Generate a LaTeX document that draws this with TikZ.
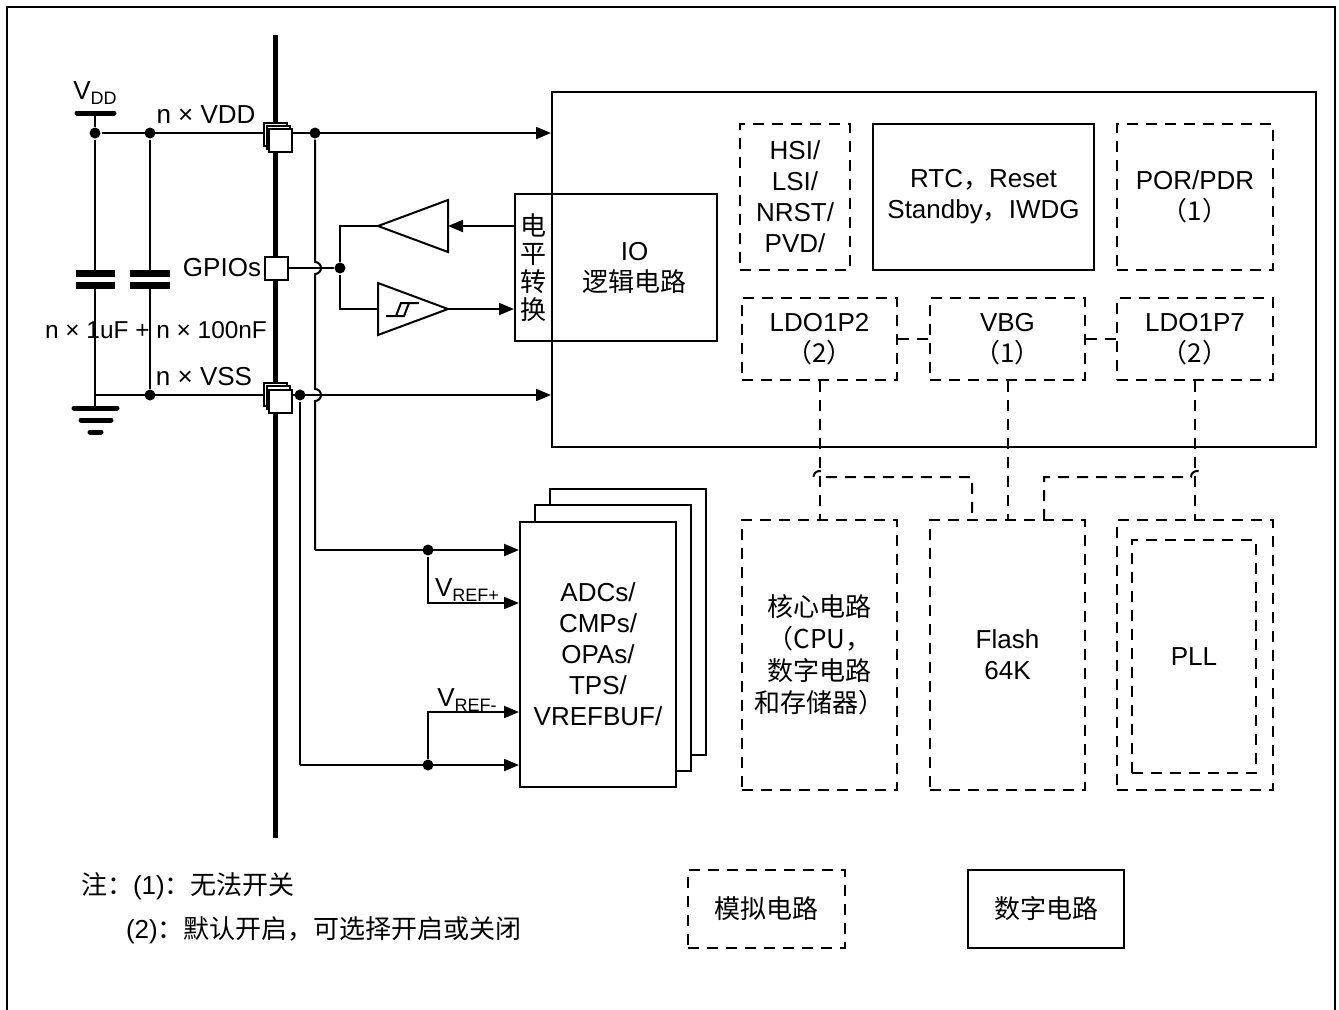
\documentclass[tikz,border=0pt]{standalone}
\usepackage{fontspec}
\setmainfont{Liberation Sans}
\newfontfamily\cjk{Noto Sans CJK SC}
\usetikzlibrary{arrows.meta,calc}
\begin{document}
\begin{tikzpicture}[x=0.5pt,y=-0.5pt, line width=1pt,
  font=\fontsize{13}{15.5}\selectfont,
  solidbox/.style={draw, line width=1pt, inner sep=0pt, align=center},
  dashbox/.style={draw, line width=1pt, dash pattern=on 5.5pt off 4pt, inner sep=0pt, align=center},
  dline/.style={dash pattern=on 5.5pt off 4pt},
  arr/.style={-{Triangle[length=7.5pt,width=6pt]}},
  dot/.style={circle, fill, inner sep=0pt, minimum size=5.5pt},
  pad/.style={draw, fill=white, minimum size=11.5pt, inner sep=0pt},
  lbl/.style={inner sep=0pt},
  plate/.style={line width=3.5pt},
  gnd/.style={line width=2.5pt, line cap=round}]
\useasboundingbox (0,0) rectangle (1339,1009);
% outer frame
\draw[line width=1.2pt] (7,1012) -- (7,7) -- (1335,7) -- (1335,1012);

% ---------- main blocks ----------
\node[solidbox, minimum width=382pt, minimum height=177.5pt] (big) at (934,269.5) {};
\node[solidbox, minimum width=18.5pt, minimum height=73.5pt, font=\cjk\fontsize{13}{14}\selectfont] (ls) at (533.5,267.5) {电\\平\\转\\换};
\node[solidbox, minimum width=82.5pt, minimum height=73.5pt] (io) at (634.5,267.5) {IO\\{\cjk 逻辑电路}};
\node[dashbox, minimum width=55pt, minimum height=73pt] (hsi) at (795,197) {HSI/\\LSI/\\NRST/\\PVD/};
\node[solidbox, minimum width=110.5pt, minimum height=73pt] (rtc) at (983.5,197) {RTC{\cjk ，}Reset\\Standby{\cjk ，}IWDG};
\node[dashbox, minimum width=78pt, minimum height=73pt] (por) at (1195,197) {POR/PDR\\{\cjk （1）}};
\node[dashbox, minimum width=77.5pt, minimum height=41pt] (ldo2) at (819.5,339) {LDO1P2\\{\cjk （2）}};
\node[dashbox, minimum width=77.5pt, minimum height=41pt] (vbg) at (1007.5,339) {VBG\\{\cjk （1）}};
\node[dashbox, minimum width=78pt, minimum height=41pt] (ldo7) at (1195,339) {LDO1P7\\{\cjk （2）}};
\node[dashbox, minimum width=77.5pt, minimum height=135pt, font=\cjk\fontsize{13}{16}\selectfont] (core) at (819.5,655) {核心电路\\（CPU，\\数字电路\\和存储器）};
\node[dashbox, minimum width=77.5pt, minimum height=135pt] (flash) at (1007.5,655) {Flash\\64K};
\node[dashbox, minimum width=78pt, minimum height=135pt] (pll) at (1195,655) {};
\node[dashbox, minimum width=62pt, minimum height=116.5pt] (pllin) at (1194,656.5) {PLL};

% ADC stack
\node[solidbox, fill=white, minimum width=78pt, minimum height=133pt] (adc3) at (628,622) {};
\node[solidbox, fill=white, minimum width=78pt, minimum height=133pt] (adc2) at (613,638) {};
\node[solidbox, fill=white, minimum width=78pt, minimum height=132.5pt] (adc) at (598,654.5) {ADCs/\\CMPs/\\OPAs/\\TPS/\\VREFBUF/};

% legend
\node[dashbox, minimum width=78.5pt, minimum height=39pt, font=\cjk\fontsize{13}{15.5}\selectfont] (lega) at (766.5,909) {模拟电路};
\node[solidbox, minimum width=78pt, minimum height=39pt, font=\cjk\fontsize{13}{15.5}\selectfont] (legd) at (1046,909) {数字电路};
\node[lbl, anchor=west] (note1) at (80,886) {{\cjk 注：}(1){\cjk ：无法开关}};
\node[lbl, anchor=west] (note2) at (125,930) {(2){\cjk ：默认开启，可选择开启或关闭}};

% ---------- dashed internal connectors ----------
\draw[dline] (ldo2.east) -- (vbg.west);
\draw[dline] (vbg.east) -- (ldo7.west);
\draw[dline] (ldo2.south) -- (core.north);
\draw[dline] (vbg.south) -- (flash.north);
\draw[dline] (ldo7.south) -- (pll.north);
\coordinate (hopl) at (813.5,477);
\coordinate (fl1) at (972,520);
\coordinate (fl2) at (1044,520);
\coordinate (hopr) at (1191,477);
\draw[dline] (hopl) arc[start angle=180,end angle=0,radius=3pt] -- (fl1 |- hopl) -- (fl1);
\draw[dline] (fl2) -- (fl2 |- hopr) -- (hopr) arc[start angle=180,end angle=0,radius=3pt];

% ---------- power supply side ----------
\coordinate (bust) at (275,35);
\coordinate (busb) at (275,838);
\draw[line width=2.5pt] (bust) -- (busb);

\coordinate (vddbar) at (95,113);
\draw[line width=2.5pt, line cap=round] (77,113) -- (114,113);
\node[lbl] (vddlbl) at (95,93) {V\raisebox{-0.4ex}{\fontsize{9}{9}\selectfont DD}};
\node[dot] (d1) at (95,133) {};
\node[dot] (d2) at (150,133) {};
\node[dot] (d3) at (315,133) {};
\node[dot] (d4) at (150,395) {};
\node[dot] (d5) at (300,395) {};
\coordinate (vssn) at (95,395);
\draw (vddbar) -- (d1);
\draw[arr] (d1) -- (d1 -| big.west);
\draw[arr] (vssn) -- (vssn -| big.west);

% capacitors
\coordinate (c1a) at (95,273.5);
\coordinate (c1b) at (95,285);
\coordinate (c2a) at (150,273.5);
\coordinate (c2b) at (150,285);
\draw (d1) -- (c1a);
\draw (d2) -- (c2a);
\draw (c1b) -- (95,407);
\draw (c2b) -- (d4);
\draw[plate] (76,273.5) -- (115,273.5);
\draw[plate] (76,285) -- (115,285);
\draw[plate] (130,273.5) -- (170,273.5);
\draw[plate] (130,285) -- (170,285);
% ground
\draw[gnd] (74,408) -- (117,408);
\draw[gnd] (81,420) -- (111,420);
\draw[gnd] (90,432) -- (101,432);

\node[lbl] (nvdd) at (206,115) {n × VDD};
\node[lbl] (nvss) at (204,377) {n × VSS};
\node[lbl, font=\fontsize{12.2}{14}\selectfont] (ncap) at (156,330) {n × 1uF + n × 100nF};
\node[lbl, anchor=east] (gpiol) at (262,268) {GPIOs};

% VDD trunk with hops
\coordinate (a1) at (315,550);
\draw (d3) -- (315,262) arc[start angle=90,end angle=-90,radius=3pt] -- (315,389) arc[start angle=90,end angle=-90,radius=3pt] -- (a1);
\draw[arr] (a1) -- (a1 -| adc.west);
\coordinate (a2) at (300,765);
\draw (d5) -- (a2);
\draw[arr] (a2) -- (a2 -| adc.west);
\node[dot] (d6) at (428,550) {};
\node[dot] (d7) at (428,765) {};
\coordinate (vrp) at (428,603);
\coordinate (vrm) at (428,712);
\draw[arr] (d6) -- (vrp) -- (vrp -| adc.west);
\draw[arr] (d7) -- (vrm) -- (vrm -| adc.west);
\node[lbl] (vrefp) at (467,590) {V\raisebox{-0.4ex}{\fontsize{9}{9}\selectfont REF+}};
\node[lbl] (vrefm) at (467,700) {V\raisebox{-0.4ex}{\fontsize{9}{9}\selectfont REF-}};

% GPIO and buffers
\node[dot] (gd) at (340,268) {};
\coordinate (b1apex) at (378,226);
\coordinate (b1base) at (448,226);
\coordinate (b2base) at (378,309);
\coordinate (b2apex) at (448,309);
\draw (378,226) -- (448,200) -- (448,252) -- cycle;
\draw (378,283) -- (378,335) -- (448,309) -- cycle;
\draw[arr] (b1base -| ls.west) -- (b1base);
\draw (b1apex) -- (gd |- b1apex) -- (gd);
\draw (gd) -- (gd |- b2base) -- (b2base);
\draw[arr] (b2apex) -- (b2apex -| ls.west);
% hysteresis symbol
\draw (386,316) -- (404,316) -- (409,303) -- (419,303);
\draw (396,316) -- (401,303) -- (409,303);

% pads
\node[pad] (pgpio) at (276,268) {};
\draw (pgpio.east) -- (gd);
\draw[fill=white] (264,123) rectangle ++(23,23);
\draw[fill=white] (266.5,126) rectangle ++(23,23);
\node[pad] (pvdd) at (280.5,140.5) {};
\draw[fill=white] (264,383) rectangle ++(23,23);
\draw[fill=white] (266.5,386) rectangle ++(23,23);
\node[pad] (pvss) at (280.5,401.5) {};
\end{tikzpicture}
\end{document}
